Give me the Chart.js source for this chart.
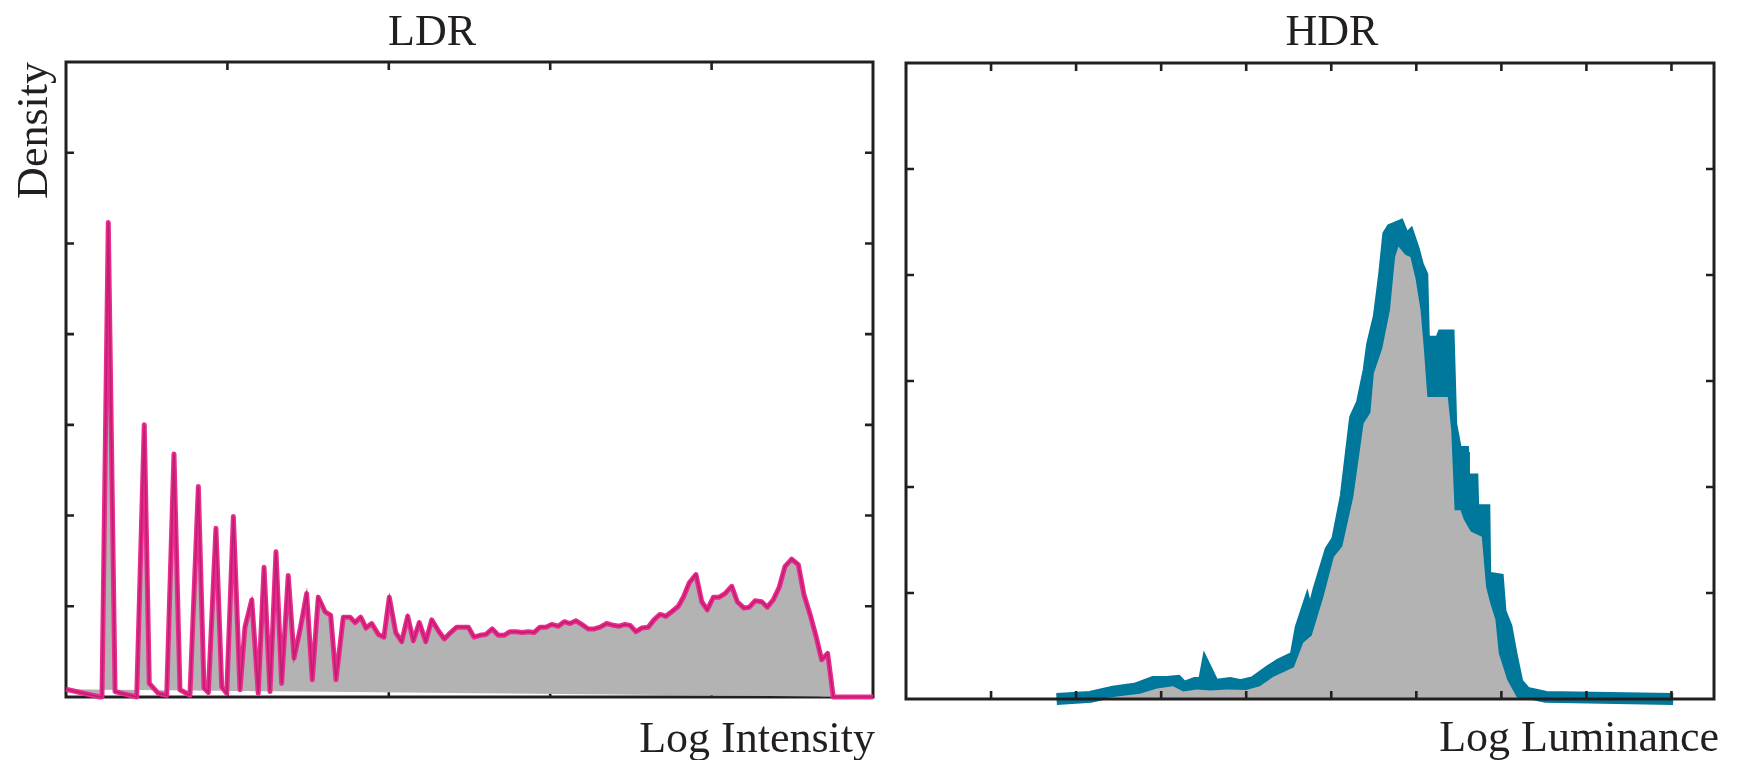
<!DOCTYPE html>
<html>
<head>
<meta charset="utf-8">
<script src="https://cdn.jsdelivr.net/npm/chart.js@4.4.0/dist/chart.umd.min.js"></script>
<style>
  html, body { margin: 0; padding: 0; background: #fff; }
  #wrap { position: relative; width: 1738px; height: 760px; overflow: hidden; }
  canvas { position: absolute; top: 0; }
  #ldr { left: 0; }
  #hdr { left: 890px; }
</style>
</head>
<body>
<div id="wrap">
  <canvas id="ldr" width="890" height="760"></canvas>
  <canvas id="hdr" width="848" height="760"></canvas>
</div>
<script>
'use strict';

// LDR histogram, x in tick steps (0..5), density in tick steps (0..7)
const ldrLogIntensity = [0, 0.211, 0.223, 0.262, 0.304, 0.438, 0.485, 0.516, 0.572, 0.624,
    0.669, 0.706, 0.768, 0.820, 0.855, 0.882, 0.929, 0.965, 0.996, 1.037,
    1.078, 1.109, 1.151, 1.191, 1.227, 1.264, 1.301, 1.336, 1.377, 1.413,
    1.450, 1.491, 1.526, 1.563, 1.605, 1.640, 1.673, 1.718, 1.760, 1.791,
    1.826, 1.859, 1.894, 1.935, 1.970, 2.003, 2.043, 2.080, 2.117, 2.152,
    2.189, 2.229, 2.266, 2.307, 2.344, 2.383, 2.421, 2.462, 2.493, 2.528,
    2.565, 2.602, 2.641, 2.678, 2.714, 2.751, 2.788, 2.827, 2.864, 2.900,
    2.937, 2.974, 3.009, 3.050, 3.087, 3.123, 3.160, 3.195, 3.236, 3.273,
    3.309, 3.350, 3.391, 3.428, 3.463, 3.494, 3.532, 3.567, 3.608, 3.643,
    3.680, 3.717, 3.753, 3.794, 3.825, 3.862, 3.903, 3.939, 3.973, 4.011,
    4.048, 4.083, 4.125, 4.159, 4.201, 4.234, 4.269, 4.310, 4.345, 4.382,
    4.419, 4.455, 4.496, 4.537, 4.572, 4.610, 4.647, 4.682, 4.719, 4.754, 5.0];
const ldrDensity = [0.085, 0, 0, 5.23, 0.06, 0, 3.0, 0.15, 0.04, 0.02,
    2.68, 0.08, 0.02, 2.32, 0.10, 0.05, 1.86, 0.11, 0.04, 1.99,
    0.08, 0.77, 1.07, 0.04, 1.43, 0.06, 1.60, 0.15, 1.34, 0.43,
    0.74, 1.14, 0.19, 1.10, 0.94, 0.90, 0.19, 0.88, 0.88, 0.82,
    0.88, 0.76, 0.81, 0.69, 0.66, 1.10, 0.71, 0.61, 0.89, 0.62,
    0.82, 0.61, 0.85, 0.73, 0.64, 0.71, 0.77, 0.77, 0.77, 0.66,
    0.68, 0.69, 0.75, 0.68, 0.68, 0.72, 0.72, 0.71, 0.72, 0.71,
    0.77, 0.77, 0.80, 0.78, 0.83, 0.81, 0.84, 0.80, 0.75, 0.75,
    0.77, 0.81, 0.79, 0.78, 0.80, 0.79, 0.72, 0.76, 0.77, 0.85,
    0.91, 0.89, 0.94, 1.00, 1.10, 1.26, 1.35, 1.05, 0.96, 1.10,
    1.10, 1.14, 1.22, 1.05, 0.98, 0.99, 1.06, 1.05, 0.99, 1.07,
    1.21, 1.44, 1.52, 1.46, 1.13, 0.91, 0.67, 0.41, 0.48, 0, 0];
// closing edge of the filled polygon (first point to last point)
const ldrBaseX = [0, 5];
const ldrBaseY = [0.085, 0];

// HDR histogram, x in tick steps (0..9.5), density in tick steps (0..6)
const hdrLogLum = [1.77, 2.17, 2.44, 2.71, 2.91, 3.07, 3.19, 3.26, 3.40, 3.50,
    3.53, 3.62, 3.81, 3.93, 4.09, 4.28, 4.40, 4.58, 4.64, 4.71,
    4.75, 4.85, 4.99, 5.07, 5.17, 5.28, 5.36, 5.44, 5.48, 5.56,
    5.62, 5.67, 5.71, 5.80, 5.87, 5.92, 5.97, 6.02, 6.07, 6.09,
    6.28, 6.31, 6.38, 6.41, 6.46, 6.47, 6.55, 6.56, 6.66, 6.67,
    6.80, 6.81, 6.96, 6.99, 7.06, 7.12, 7.19, 7.29, 7.52, 9.02];
const hdrDensity = [0, 0.02, 0.07, 0.10, 0.16, 0.16, 0.17, 0.11, 0.15, 0.15,
    0.28, 0.13, 0.15, 0.13, 0.16, 0.27, 0.33, 0.40, 0.67, 0.84,
    0.71, 1.03, 1.40, 1.50, 1.91, 2.65, 2.79, 3.10, 3.34, 3.61,
    3.99, 4.38, 4.43, 4.46, 4.32, 4.36, 4.24, 4.09, 4.00, 3.37,
    3.37, 3.43, 3.43, 2.59, 2.38, 2.33, 2.33, 2.07, 2.07, 1.78,
    1.78, 1.15, 1.13, 0.82, 0.68, 0.42, 0.15, 0.06, 0.02, 0];
// grey area drawn over the outline
const hdrAreaLogLum = [2.24, 2.75, 2.95, 3.14, 3.26, 3.42, 3.58, 3.77, 4.00, 4.16,
    4.32, 4.56, 4.67, 4.77, 4.91, 5.03, 5.13, 5.26, 5.38, 5.46,
    5.50, 5.60, 5.69, 5.75, 5.79, 5.87, 5.93, 5.99, 6.05, 6.09,
    6.13, 6.37, 6.41, 6.45, 6.52, 6.56, 6.64, 6.77, 6.82, 6.87,
    6.93, 6.97, 7.07, 7.18, 7.22];
const hdrAreaDensity = [0, 0.05, 0.10, 0.12, 0.07, 0.09, 0.08, 0.09, 0.085, 0.12,
    0.21, 0.30, 0.53, 0.60, 0.97, 1.34, 1.44, 1.91, 2.60, 2.70,
    3.07, 3.31, 3.67, 4.17, 4.27, 4.19, 4.17, 3.97, 3.67, 3.29,
    2.85, 2.85, 2.54, 1.78, 1.78, 1.69, 1.58, 1.53, 1.06, 0.90,
    0.75, 0.43, 0.18, 0.02, 0];

const AXIS = '#231f20';
const GREY = '#b3b3b3';
const FONT = '44px "Liberation Serif", "DejaVu Serif", serif';

function pts(xs, ys) {
    return xs.map((x, i) => ({x: x, y: ys[i]}));
}

function drawFrame(chart) {
    const ctx = chart.ctx;
    const a = chart.chartArea;
    const sx = chart.scales.x, sy = chart.scales.y;
    const len = 8;
    ctx.save();
    ctx.strokeStyle = AXIS;
    ctx.lineWidth = 2.6;
    ctx.beginPath();
    sx.ticks.forEach(t => {
        const px = sx.getPixelForValue(t.value);
        if (px - a.left < 3 || a.right - px < 3) return;
        ctx.moveTo(px, a.bottom); ctx.lineTo(px, a.bottom - len);
        ctx.moveTo(px, a.top); ctx.lineTo(px, a.top + len);
    });
    sy.ticks.forEach(t => {
        const py = sy.getPixelForValue(t.value);
        if (py - a.top < 3 || a.bottom - py < 3) return;
        ctx.moveTo(a.left, py); ctx.lineTo(a.left + len, py);
        ctx.moveTo(a.right, py); ctx.lineTo(a.right - len, py);
    });
    ctx.stroke();
    ctx.lineWidth = 3;
    ctx.strokeRect(a.left, a.top, a.right - a.left, a.bottom - a.top);
    ctx.restore();
}

const framePlugin = {
    id: 'frame',
    beforeDatasetsDraw(chart, args, opts) {
        if (!opts.onTop) drawFrame(chart);
    },
    afterDatasetsDraw(chart, args, opts) {
        if (opts.onTop) drawFrame(chart);
    },
    afterDraw(chart, args, opts) {
        const ctx = chart.ctx;
        ctx.save();
        ctx.fillStyle = AXIS;
        ctx.font = FONT;
        ctx.textBaseline = 'alphabetic';
        (opts.texts || []).forEach(t => {
            ctx.save();
            ctx.translate(t.x, t.y);
            if (t.rot) ctx.rotate(t.rot);
            ctx.textAlign = t.align;
            ctx.fillText(t.text, 0, 0);
            ctx.restore();
        });
        ctx.restore();
    }
};

function axes(xmax, ymax) {
    const hidden = {
        grid: {display: false, drawTicks: false},
        border: {display: false}
    };
    return {
        x: Object.assign({type: 'linear', min: 0, max: xmax,
            ticks: {stepSize: 1, display: false}}, hidden),
        y: Object.assign({type: 'linear', min: 0, max: ymax,
            ticks: {stepSize: 1, display: false}}, hidden)
    };
}

const common = {
    responsive: false,
    animation: false,
    devicePixelRatio: 1,
    events: [],
    elements: {point: {radius: 0}, line: {tension: 0}},
};

const ldrData = pts(ldrLogIntensity, ldrDensity);

new Chart(document.getElementById('ldr'), {
    type: 'line',
    data: {
        datasets: [{
            data: pts(ldrBaseX, ldrBaseY),
            borderWidth: 0,
            borderColor: 'rgba(0,0,0,0)',
            fill: false,
            order: 3
        }, {
            data: ldrData,
            borderWidth: 0,
            borderColor: 'rgba(0,0,0,0)',
            backgroundColor: GREY,
            fill: 0,
            order: 2
        }, {
            data: ldrData,
            borderColor: '#ec2a8e',
            borderWidth: 5,
            borderJoinStyle: 'round',
            fill: false,
            clip: false,
            order: 1
        }, {
            data: ldrData,
            borderColor: '#bd2070',
            borderWidth: 1.6,
            fill: false,
            clip: false,
            order: 0
        }]
    },
    options: Object.assign({}, common, {
        layout: {autoPadding: false, padding: {left: 66, top: 62, right: 17, bottom: 63}},
        scales: axes(5, 7),
        plugins: {
            legend: {display: false},
            tooltip: {enabled: false},
            frame: {
                onTop: false,
                texts: [
                    {text: 'LDR', x: 432, y: 45, align: 'center'},
                    {text: 'Density', x: 47, y: 62, align: 'right', rot: -Math.PI / 2},
                    {text: 'Log Intensity', x: 875, y: 752, align: 'right'}
                ]
            }
        }
    }),
    plugins: [framePlugin]
});

new Chart(document.getElementById('hdr'), {
    type: 'line',
    data: {
        datasets: [{
            data: pts(hdrAreaLogLum, hdrAreaDensity),
            borderWidth: 0,
            borderColor: 'rgba(0,0,0,0)',
            backgroundColor: GREY,
            fill: 'origin',
            order: 0
        }, {
            data: pts(hdrLogLum, hdrDensity),
            borderColor: '#00789b',
            backgroundColor: '#00789b',
            borderWidth: 12,
            fill: 'origin',
            clip: false,
            order: 1
        }]
    },
    options: Object.assign({}, common, {
        layout: {autoPadding: false, padding: {left: 16, top: 63, right: 24, bottom: 61}},
        scales: axes(9.5, 6),
        plugins: {
            legend: {display: false},
            tooltip: {enabled: false},
            frame: {
                onTop: true,
                texts: [
                    {text: 'HDR', x: 442, y: 45, align: 'center'},
                    {text: 'Log Luminance', x: 829, y: 751, align: 'right'}
                ]
            }
        }
    }),
    plugins: [framePlugin]
});
</script>
</body>
</html>
